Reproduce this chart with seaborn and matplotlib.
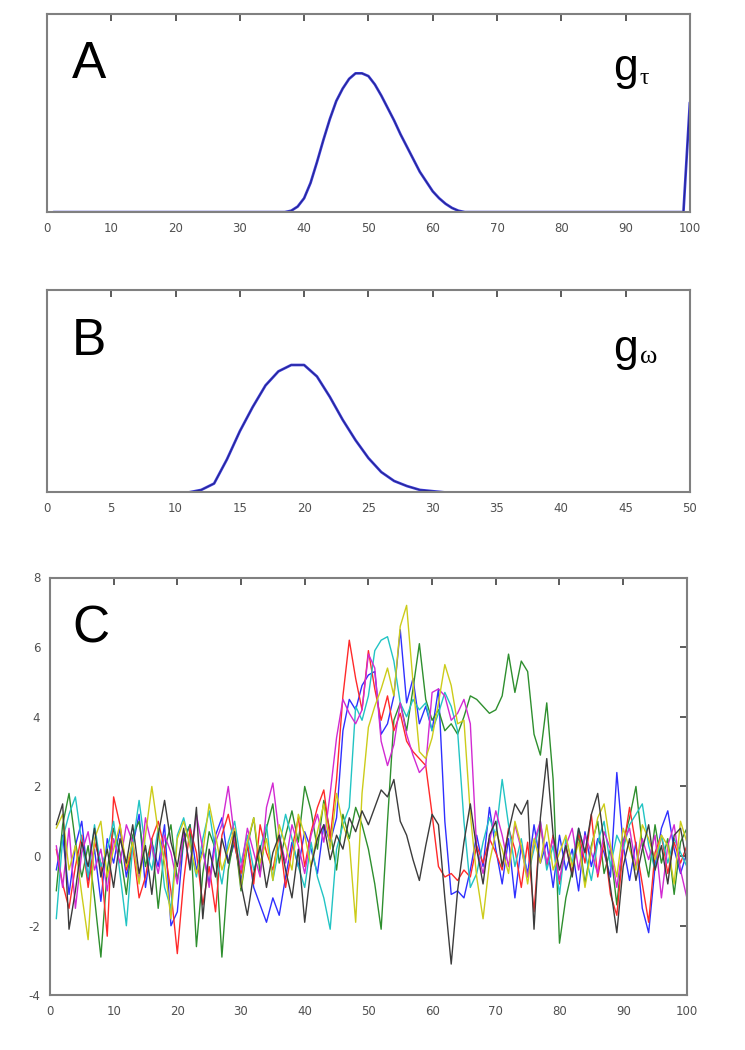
import pandas as pd
import matplotlib
matplotlib.use('Agg')
import matplotlib.pyplot as plt
import seaborn as sns

sns.set_style('white')
plt.rcParams['font.family'] = ['DejaVu Sans']
plt.rcParams['axes.unicode_minus'] = False
plt.rcParams['text.color'] = 'black'

# ---- panel A: g_tau over 1..100 (relative units, peak = 1)
tau_x = list(range(1, 101))
g_tau = [0, 0, 0, 0, 0, 0, 0, 0, 0, 0,
         0, 0, 0, 0, 0, 0, 0, 0, 0, 0,
         0, 0, 0, 0, 0, 0, 0, 0, 0, 0,
         0, 0, 0, 0, 0, 0, 0, 0.01, 0.04, 0.10,
         0.21, 0.36, 0.52, 0.67, 0.80, 0.89, 0.96, 1.00, 1.00, 0.98,
         0.92, 0.84, 0.75, 0.66, 0.56, 0.47, 0.38, 0.29, 0.22, 0.15,
         0.10, 0.06, 0.03, 0.01, 0, 0, 0, 0, 0, 0,
         0, 0, 0, 0, 0, 0, 0, 0, 0, 0,
         0, 0, 0, 0, 0, 0, 0, 0, 0, 0,
         0, 0, 0, 0, 0, 0, 0, 0, 0, 0.79]

# ---- panel B: g_omega over 1..50
omega_x = list(range(1, 51))
g_omega = [0, 0, 0, 0, 0, 0, 0, 0, 0, 0,
           0, 0.02, 0.07, 0.26, 0.48, 0.67, 0.84, 0.95, 1.00, 1.00,
           0.91, 0.75, 0.57, 0.41, 0.27, 0.16, 0.09, 0.05, 0.02, 0.01,
           0, 0, 0, 0, 0, 0, 0, 0, 0, 0,
           0, 0, 0, 0, 0, 0, 0, 0, 0, 0]

# ---- panel C: seven traces over 1..100
trace_x = list(range(1, 101))
tr_blue = [-0.4, 0.6, -1.1, 0.3, 1.0, -0.7, 0.2, -1.3, 0.5, -0.2,
           0.8, -0.6, 0.3, 1.2, -0.9, 0.4, -0.3, 0.9, -2.0, -1.6,
           0.5, 0.9, -0.4, 0.2, -0.8, 0.6, 1.1, -0.2, 0.4, -0.7,
           0.3, -0.9, -1.4, -1.9, -1.2, -1.7, -0.6, 0.4, -0.3, 0.7,
           0.2, -0.5, 0.9, 0.4, 1.1, 3.6, 4.5, 4.2, 4.9, 5.2,
           5.3, 3.5, 3.8, 4.6, 6.5, 4.4, 5.1, 3.8, 4.3, 3.6,
           4.8, 1.0, -1.1, -1.0, -1.2, -0.4, 0.6, -0.3, 1.4, 0.2,
           -0.8, 0.5, -1.2, 0.3, -0.5, 0.9, -0.2, 0.4, -0.9, 0.6,
           -0.4, 0.2, -1.0, 0.7, -0.3, 0.5, 0.1, -0.6, 2.4, 0.3,
           -0.7, 0.4, -1.5, -2.2, -0.3, 0.8, 1.3, 0.2, -0.5, 0.1]
tr_green = [-1.0, 0.9, 1.8, 0.4, -0.6, 0.3, -1.2, -2.9, -0.4, 0.8,
            0.1, -1.1, 0.6, 1.0, -0.3, 0.5, -1.5, 0.2, 0.9, -0.7,
            0.4, 0.9, -2.6, -0.5, 0.7, 0.2, -2.9, -0.4, 0.6, -1.0,
            0.3, 1.1, -0.5, 0.8, 1.5, -0.2, 0.6, 1.3, 0.4, 2.0,
            1.3, 0.2, 1.6, 0.7, -0.4, 1.2, 0.5, 1.4, 0.9, 0.2,
            -0.8, -2.1, 1.0, 3.9, 4.4, 3.6, 4.8, 6.1, 4.5, 3.9,
            4.2, 3.6, 3.8, 3.5, 4.0, 4.6, 4.5, 4.3, 4.1, 4.2,
            4.6, 5.8, 4.7, 5.6, 5.3, 3.5, 2.9, 4.4, 2.2, -2.5,
            -1.2, -0.4, 0.6, -0.8, 0.3, 1.0, -0.5, 0.2, -1.4, 0.4,
            1.1, 2.0, 0.3, -0.6, 0.9, -0.2, 0.5, -1.1, 0.4, 0.8]
tr_red = [0.2, -0.8, -1.5, -0.3, 0.6, -0.9, 0.4, -0.2, -2.3, 1.7,
          0.9, -0.4, 0.3, -1.2, -0.6, 0.5, 1.0, 0.2, -1.0, -2.8,
          -0.7, 0.8, 0.1, -1.4, -0.3, -1.6, 0.6, 1.2, 0.3, -0.5,
          0.4, -0.8, 0.9, 0.1, -0.4, 0.6, -0.9, 0.2, 1.1, -0.3,
          0.7, 1.4, 1.9, 0.5, 2.2, 4.6, 6.2, 5.1, 4.2, 5.9,
          4.8, 3.9, 4.6, 3.6, 4.1, 3.3, 3.0, 2.8, 2.6, 1.2,
          -0.3, -0.6, -0.5, -0.7, -0.4, -0.6, 0.3, -0.2, 0.5, 0.1,
          -0.4, 0.8, 0.2, -0.9, 0.4, -1.6, 0.9, -0.3, 0.6, -0.8,
          0.3, -0.5, 0.7, -0.2, 1.2, -0.6, 0.4, -1.1, -1.7, 0.2,
          1.4, 0.3, -0.8, -1.9, 0.1, 0.6, -0.5, 0.4, -0.2, 0.3]
tr_cyan = [-1.8, 0.5, 1.2, 1.7, 0.4, -0.6, 0.9, -0.3, 0.2, 1.0,
           -0.5, -2.0, 0.3, 1.6, 0.2, -0.4, 0.8, -0.9, -1.5, 0.6,
           1.1, 0.3, -0.6, 0.5, 1.3, 0.1, -0.8, 0.4, 1.0, -0.2,
           0.6, -0.4, 0.2, 0.9, -0.7, 0.3, 1.2, 0.5, -0.3, -0.9,
           0.4, -0.6, -1.2, -2.1, 0.2, 0.9, 1.4, 4.3, 3.9, 4.6,
           5.9, 6.2, 6.3, 5.6, 4.4, 4.0, 4.5, 4.2, 4.4, 3.6,
           4.1, 4.7, 4.3, 3.6, 1.0, -0.9, -0.5, 0.4, 1.1, 0.6,
           2.2, 0.9, -0.3, 0.5, -0.6, 0.2, 1.0, -0.4, 0.3, -1.1,
           0.5, -0.2, 0.8, 0.1, -0.7, 0.4, 1.0, -0.3, 0.6, 0.2,
           0.9, 1.2, 1.5, 0.3, -0.4, 0.6, -0.2, 0.5, 0.1, -0.3]
tr_magenta = [0.3, -0.9, 0.8, -1.5, 0.1, 0.7, -0.4, 0.2, -1.0, 0.5,
              -0.2, 0.9, 0.4, -0.7, 1.1, 0.3, -0.5, 0.6, 0.1, -0.8,
              0.7, -0.3, 1.2, 0.2, -0.9, 0.4, 0.9, 2.0, 0.5, -0.4,
              0.8, 0.1, -0.6, 1.4, 2.1, 0.6, -0.2, 0.9, 0.3, -0.5,
              0.6, 1.2, 0.4, 1.8, 3.4, 4.5, 4.1, 3.8, 4.2, 5.8,
              5.4, 3.3, 2.6, 3.2, 4.4, 3.5, 2.9, 2.4, 2.6, 4.7,
              4.8, 4.6, 3.9, 4.1, 4.5, 3.8, 0.2, -0.5, 0.4, 1.3,
              0.6, -0.3, 0.9, 0.2, -0.6, 0.4, 1.0, -0.2, 0.5, -0.7,
              0.3, 0.8, -0.4, 0.6, 0.1, -0.5, 0.7, 0.2, -0.9, 0.4,
              0.8, -0.3, 0.5, -0.1, 0.6, -1.2, 0.3, 0.9, -0.4, -1.2]
tr_yellow = [0.8, 1.2, -0.4, 0.3, -1.1, -2.4, 0.5, 1.0, -0.6, 0.2,
             0.9, -0.3, 0.4, -0.8, 0.6, 2.0, 0.7, -0.2, -1.8, 0.5,
             1.0, 0.3, -0.5, 0.1, 1.5, 0.6, -0.4, 0.2, 0.8, -0.9,
             0.4, 1.1, -0.2, 0.5, -0.7, 0.9, 0.3, -0.4, 1.2, 0.6,
             -0.3, 0.7, 1.5, 0.2, 1.8, 0.9, 0.4, -1.9, 1.8, 3.7,
             4.3, 4.8, 5.4, 4.6, 6.6, 7.2, 5.0, 3.0, 2.8, 3.4,
             4.4, 5.5, 4.9, 3.8, 3.9, 1.2, -0.6, -1.8, -0.2, 0.7,
             0.2, -0.5, 1.0, 0.3, -0.8, 0.5, -0.2, 0.9, -0.4, 0.1,
             0.6, -0.3, 0.4, -0.9, 0.2, 1.1, 1.5, 0.3, -0.6, 0.8,
             0.2, -0.4, 0.9, 0.5, -0.1, 0.6, 0.3, -0.8, 1.0, 0.4]
tr_black = [0.9, 1.5, -2.1, -1.0, 0.4, -0.3, 0.8, -0.6, 0.2, -0.9,
            0.5, -0.2, 0.9, -0.5, 0.3, -1.1, 0.6, 1.6, 0.4, -0.3,
            0.8, -0.4, 1.4, -1.8, 0.2, -0.6, 0.5, -0.2, 0.7, -0.8,
            -1.7, -0.5, 0.3, -0.9, 0.1, 0.6, -0.4, -1.2, 0.2, -1.9,
            -0.3, 0.5, 0.9, -0.1, 0.6, 0.2, 1.1, 0.7, 1.3, 0.9,
            1.4, 1.9, 1.7, 2.2, 1.0, 0.6, -0.1, -0.7, 0.3, 1.2,
            0.9, -1.2, -3.1, -1.0, 0.4, 1.5, 0.2, -0.8, 0.6, 1.0,
            -0.3, 0.7, 1.5, 1.2, 1.6, -2.1, 1.1, 2.8, 0.6, -0.4,
            0.3, -0.6, 0.8, 0.1, 1.2, 1.8, 0.4, -0.9, -2.2, -0.3,
            0.5, -0.7, 0.2, 0.9, -0.4, 0.3, -0.8, 0.6, 0.8, -0.2]

trace_names = ['b', 'g', 'r', 'c', 'm', 'y', 'k']
trace_colors = {'b': '#2f2fff', 'g': '#2e8f2e', 'r': '#ff2a2a', 'c': '#22c4c4',
                'm': '#d22ad2', 'y': '#cccc1a', 'k': '#3c3c3c'}
traces = [tr_blue, tr_green, tr_red, tr_cyan, tr_magenta, tr_yellow, tr_black]

df_c = pd.concat([pd.DataFrame({'x': trace_x, 'v': vals, 'trace': name})
                  for name, vals in zip(trace_names, traces)], ignore_index=True)


def style_axes(ax):
    for s in ax.spines.values():
        s.set_visible(True)
        s.set_color('#808080')
        s.set_linewidth(1.5)
    ax.tick_params(direction='in', top=True, right=True, length=5, width=1.2,
                   color='#404040', labelsize=8.5, labelcolor='#505050', pad=7)
    ax.set_xlabel('')
    ax.set_ylabel('')


fig = plt.figure(figsize=(7.45, 10.5), dpi=100)
axA = fig.add_axes([0.063, 0.798, 0.863, 0.189])
axB = fig.add_axes([0.063, 0.531, 0.863, 0.193])
axC = fig.add_axes([0.067, 0.052, 0.855, 0.398])

# A
sns.lineplot(x=tau_x, y=g_tau, ax=axA, color='#3838d8', lw=1.9)
sns.lineplot(x=tau_x, y=g_tau, ax=axA, color='#1c1c5a', lw=0.7, alpha=0.6)
axA.set_xlim(0, 100)
axA.set_ylim(0, 1.43)
axA.set_xticks(range(0, 101, 10))
axA.set_yticks([])
style_axes(axA)
axA.text(0.039, 0.677, 'A', transform=axA.transAxes, fontsize=37,
         family='Liberation Sans', va='baseline', color='black')
axA.text(0.880, 0.667, 'g', transform=axA.transAxes, fontsize=32,
         family='Liberation Sans', va='baseline', color='black')
axA.text(0.922, 0.643, 'τ', transform=axA.transAxes, fontsize=17,
         family='Liberation Serif', va='baseline', color='black')

# B
sns.lineplot(x=omega_x, y=g_omega, ax=axB, color='#3838d8', lw=1.9)
sns.lineplot(x=omega_x, y=g_omega, ax=axB, color='#1c1c5a', lw=0.7, alpha=0.6)
axB.set_xlim(0, 50)
axB.set_ylim(0, 1.59)
axB.set_xticks(range(0, 51, 5))
axB.set_yticks([])
style_axes(axB)
axB.text(0.039, 0.678, 'B', transform=axB.transAxes, fontsize=37,
         family='Liberation Sans', va='baseline', color='black')
axB.text(0.880, 0.648, 'g', transform=axB.transAxes, fontsize=32,
         family='Liberation Sans', va='baseline', color='black')
axB.text(0.922, 0.64, 'ω', transform=axB.transAxes, fontsize=19,
         family='Liberation Serif', va='baseline', color='black')

# C
sns.lineplot(data=df_c, x='x', y='v', hue='trace', hue_order=trace_names,
             palette=trace_colors, lw=1.0, errorbar=None, legend=False, ax=axC)
axC.set_xlim(0, 100)
axC.set_ylim(-4, 8)
axC.set_xticks(range(0, 101, 10))
axC.set_yticks(range(-4, 9, 2))
style_axes(axC)
axC.text(0.035, 0.845, 'C', transform=axC.transAxes, fontsize=37,
         family='Liberation Sans', va='baseline', color='black')

fig.savefig('out.png', dpi=100)
